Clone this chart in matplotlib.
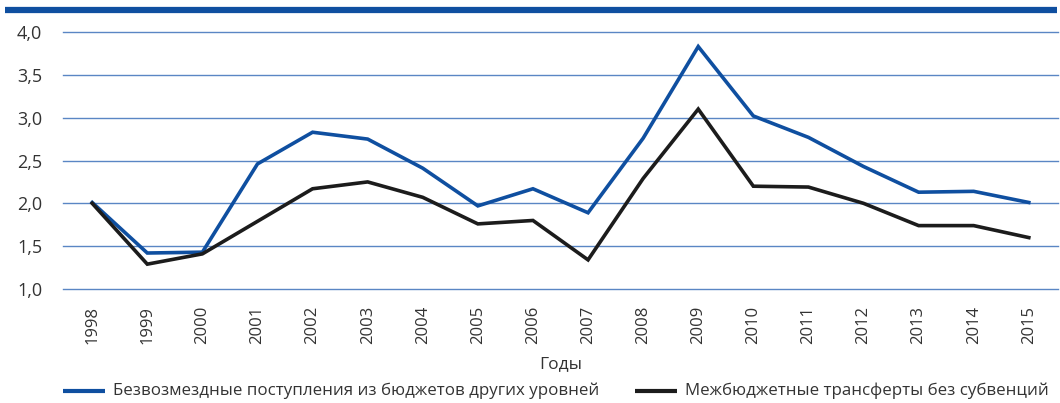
import numpy as np
import matplotlib
matplotlib.use("Agg")
import matplotlib.pyplot as plt
from matplotlib.lines import Line2D

years = list(range(1998, 2016))
gratuitous = [2.01, 1.42, 1.43, 2.46, 2.83, 2.75, 2.41, 1.97, 2.17, 1.89,
              2.76, 3.83, 3.02, 2.77, 2.43, 2.13, 2.14, 2.01]
transfers = [2.00, 1.29, 1.41, 1.79, 2.17, 2.25, 2.07, 1.76, 1.80, 1.34,
             2.29, 3.10, 2.20, 2.19, 2.00, 1.74, 1.74, 1.60]
y_ticks = [1.0, 1.5, 2.0, 2.5, 3.0, 3.5, 4.0]
label_blue = "Безвозмездные поступления из бюджетов других уровней"
label_black = "Межбюджетные трансферты без субвенций"

BLUE = "#0f4fa0"
BLACK = "#1c1c1c"
GRID = "#5a86c4"
TEXT = "#333333"

plt.rcParams["font.family"] = ["Open Sans", "DejaVu Sans"]

fig = plt.figure(figsize=(10.6, 4.03), dpi=100)
ax = fig.add_axes([63 / 1060, (403 - 289) / 403, (1058 - 63) / 1060, (289 - 32) / 403])

ax.plot(years, gratuitous, color=BLUE, lw=2.6, solid_joinstyle="miter", zorder=3)
ax.plot(years, transfers, color=BLACK, lw=2.6, solid_joinstyle="miter", zorder=3)

ax.set_xlim(1997.47, 2015.53)
ax.set_ylim(1.0, 4.0)
ax.set_yticks(y_ticks)
ax.set_yticklabels([f"{v:.1f}".replace(".", ",") for v in y_ticks])
ax.set_xticks(years)
ax.set_xticklabels([str(y) for y in years], rotation=90, va="top")
ax.tick_params(length=0, labelcolor=TEXT)
ax.tick_params(axis="y", pad=15, labelsize=13)
ax.tick_params(axis="x", pad=12, labelsize=12)

for v in y_ticks:
    ax.axhline(v, color=GRID, lw=1.0, zorder=1, clip_on=False)
for s in ax.spines.values():
    s.set_visible(False)

ax.set_xlabel("Годы", fontsize=12.5, color=TEXT, labelpad=9)

# top bar
fig.add_artist(Line2D([5 / 1060, 1057 / 1060], [1 - 10 / 403, 1 - 10 / 403],
                      color=BLUE, lw=4.5, solid_capstyle="butt"))

# legend
ly = 1 - 391 / 403
fig.add_artist(Line2D([63 / 1060, 105 / 1060], [ly, ly], color=BLUE, lw=3, solid_capstyle="butt"))
fig.text(113 / 1060, ly, label_blue, fontsize=12.2, color=TEXT, va="center")
fig.add_artist(Line2D([635 / 1060, 677 / 1060], [ly, ly], color=BLACK, lw=3, solid_capstyle="butt"))
fig.text(685 / 1060, ly, label_black, fontsize=12.2, color=TEXT, va="center")

fig.savefig("out.png", dpi=100)
